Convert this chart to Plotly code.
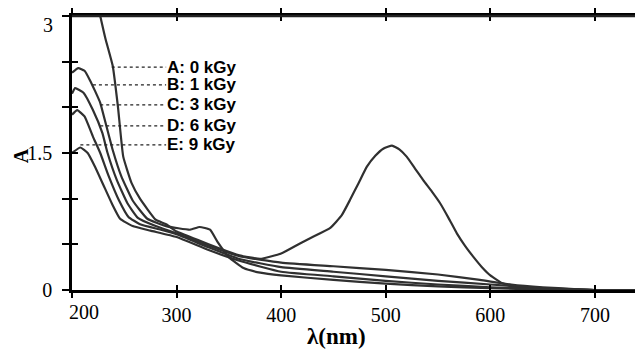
import plotly.graph_objects as go

# ---- data ----
wl_A = [227, 232, 239, 244, 249, 257, 265, 280, 290, 300, 320, 340, 360, 380, 400, 418, 430, 447, 458,
        466, 474, 482, 490, 498, 506, 513, 520, 528, 536, 544, 552, 560, 568, 576, 584, 592, 600, 612,
        625, 650, 700, 746]
abs_A = [3.0, 2.75, 2.45, 2.0, 1.46, 1.17, 1.0, 0.77, 0.72, 0.64, 0.55, 0.46, 0.38, 0.34, 0.40, 0.51, 0.58,
         0.68, 0.82, 0.99, 1.17, 1.35, 1.47, 1.55, 1.58, 1.54, 1.46, 1.33, 1.2, 1.08, 0.95, 0.79, 0.62,
         0.48, 0.36, 0.25, 0.16, 0.07, 0.03, 0.01, 0.0, 0.0]

wl_B = [200, 206, 212, 217, 222, 227, 233, 239, 247, 258, 272, 290, 313, 322, 332, 339, 350, 364, 380,
        400, 450, 500, 550, 600, 650, 700, 746]
abs_B = [2.38, 2.43, 2.40, 2.30, 2.18, 2.05, 1.79, 1.53, 1.25, 0.98, 0.78, 0.70, 0.66, 0.69, 0.66, 0.53,
         0.36, 0.24, 0.19, 0.16, 0.11, 0.07, 0.04, 0.02, 0.005, 0.0, 0.0]

wl_C = [200, 203, 211, 220, 229, 234, 243, 253, 263, 280, 300, 330, 360, 400, 450, 500, 550, 590, 620,
        650, 680, 700, 746]
abs_C = [2.15, 2.21, 2.16, 1.97, 1.72, 1.50, 1.20, 0.95, 0.79, 0.70, 0.62, 0.49, 0.37, 0.30, 0.26, 0.22,
         0.17, 0.11, 0.06, 0.03, 0.01, 0.0, 0.0]

wl_D = [200, 205, 212, 220, 227, 235, 245, 254, 265, 285, 300, 330, 360, 400, 450, 500, 550, 600, 650,
        700, 746]
abs_D = [1.92, 1.97, 1.90, 1.68, 1.50, 1.25, 0.98, 0.80, 0.72, 0.66, 0.61, 0.47, 0.34, 0.25, 0.20, 0.15,
         0.10, 0.06, 0.02, 0.0, 0.0]

wl_E = [200, 208, 215, 222, 230, 238, 246, 258, 275, 300, 330, 360, 400, 450, 500, 550, 600, 650, 700, 746]
abs_E = [1.50, 1.56, 1.50, 1.35, 1.15, 0.95, 0.78, 0.70, 0.65, 0.58, 0.44, 0.32, 0.20, 0.15, 0.10, 0.06,
         0.03, 0.01, 0.0, 0.0]

series_names = ["A: 0 kGy", "B: 1 kGy", "C: 3 kGy", "D: 6 kGy", "E: 9 kGy"]
series_x = [wl_A, wl_B, wl_C, wl_D, wl_E]
series_y = [abs_A, abs_B, abs_C, abs_D, abs_E]

# leader lines: start point near the curve bundle (wavelength, absorbance)
leader_x0 = [238, 220, 227, 227, 208]
leader_y = [2.44, 2.245, 2.026, 1.796, 1.588]
leader_x1 = 290

x_ticks = [200, 300, 400, 500, 600, 700]
x_ticktext = ["", "300", "400", "500", "600", "700"]
y_ticks = [0, 0.5, 1.0, 1.5, 2.0, 2.5, 3.0]
y_ticktext = ["0", "", "", "1.5", "", "", ""]

X_RANGE = [200, 746]
Y_RANGE = [0, 3]

fig = go.Figure()

for xs, ys, nm in zip(series_x, series_y, series_names):
    fig.add_trace(go.Scatter(x=xs, y=ys, mode="lines", name=nm,
                             line=dict(color="#303030", width=2.2, shape="spline", smoothing=0.4),
                             showlegend=False, hoverinfo="skip"))

for x0, y0, nm in zip(leader_x0, leader_y, series_names):
    fig.add_trace(go.Scatter(x=[x0, leader_x1], y=[y0, y0], mode="lines",
                             line=dict(color="#222", width=1.3, dash="dot"),
                             showlegend=False, hoverinfo="skip"))
    fig.add_annotation(x=leader_x1, y=y0, text="<b>" + nm + "</b>", showarrow=False,
                       xanchor="left", yanchor="middle", xshift=0, borderpad=0,
                       font=dict(family="Liberation Sans, Arial", size=17, color="black"))

serif = "Liberation Serif, Times New Roman, serif"

# the page body adds an 8px offset, so margins are set to put the frame where the original has it
fig.update_layout(
    width=643, height=349,
    margin=dict(l=64, r=8, t=8, b=67, pad=0),
    paper_bgcolor="white", plot_bgcolor="white",
    xaxis=dict(range=X_RANGE, showline=True, linewidth=2.5, linecolor="black", mirror="ticks",
               ticks="outside", ticklen=5, tickwidth=2, tickcolor="black", automargin=False,
               tickvals=x_ticks, ticktext=x_ticktext, showgrid=False, zeroline=False,
               tickfont=dict(family=serif, size=20, color="black")),
    yaxis=dict(range=Y_RANGE, showline=True, linewidth=2.5, linecolor="black",
               ticks="outside", ticklen=7, tickwidth=2, tickcolor="black", automargin=False,
               tickvals=y_ticks, ticktext=y_ticktext, showgrid=False, zeroline=False,
               ticklabelstandoff=6,
               tickfont=dict(family=serif, size=20, color="black")),
    xaxis2=dict(range=X_RANGE, overlaying="x", anchor="y2", side="bottom", showline=False,
                ticks="inside", ticklen=5, tickwidth=2, tickcolor="black", mirror="ticks",
                tickvals=x_ticks, showticklabels=False, showgrid=False, zeroline=False,
                automargin=False),
    yaxis2=dict(range=Y_RANGE, overlaying="y", anchor="x2", side="left", showline=False,
                ticks="inside", ticklen=6, tickwidth=2, tickcolor="black", mirror="ticks",
                tickvals=y_ticks, showticklabels=False, showgrid=False, zeroline=False,
                automargin=False),
)

# invisible trace to activate the overlay axes
fig.add_trace(go.Scatter(x=[X_RANGE[0]], y=[Y_RANGE[0]], xaxis="x2", yaxis="y2", mode="markers",
                         marker=dict(opacity=0), showlegend=False, hoverinfo="skip"))

# top border line (the top edge of the frame)
fig.add_shape(type="line", xref="paper", yref="paper", x0=0, x1=1, y0=1, y1=1,
              line=dict(color="#222", width=2.5))

# offset tick labels as in the original
fig.add_annotation(x=200, y=0, xref="x", yref="y", text="200", showarrow=False,
                   xanchor="center", yanchor="top", xshift=12, yshift=-9,
                   font=dict(family=serif, size=20, color="black"))
fig.add_annotation(x=0, y=3, xref="paper", yref="y", text="3", showarrow=False,
                   xanchor="right", yanchor="middle", xshift=-17, yshift=-9,
                   font=dict(family=serif, size=20, color="black"))

# axis titles
fig.add_annotation(x=-0.09, y=0.49, xref="paper", yref="paper", text="<b>A</b>", showarrow=False,
                   textangle=-90, xanchor="center", yanchor="middle", borderpad=0,
                   font=dict(family=serif, size=20, color="black"))
fig.add_annotation(x=(336 - 72) / 571, y=-0.17, xref="paper", yref="paper", text="<b>λ(nm)</b>",
                   showarrow=False, xanchor="center", yanchor="middle", borderpad=0,
                   font=dict(family=serif, size=23, color="black"))

fig.write_html("out.html")
